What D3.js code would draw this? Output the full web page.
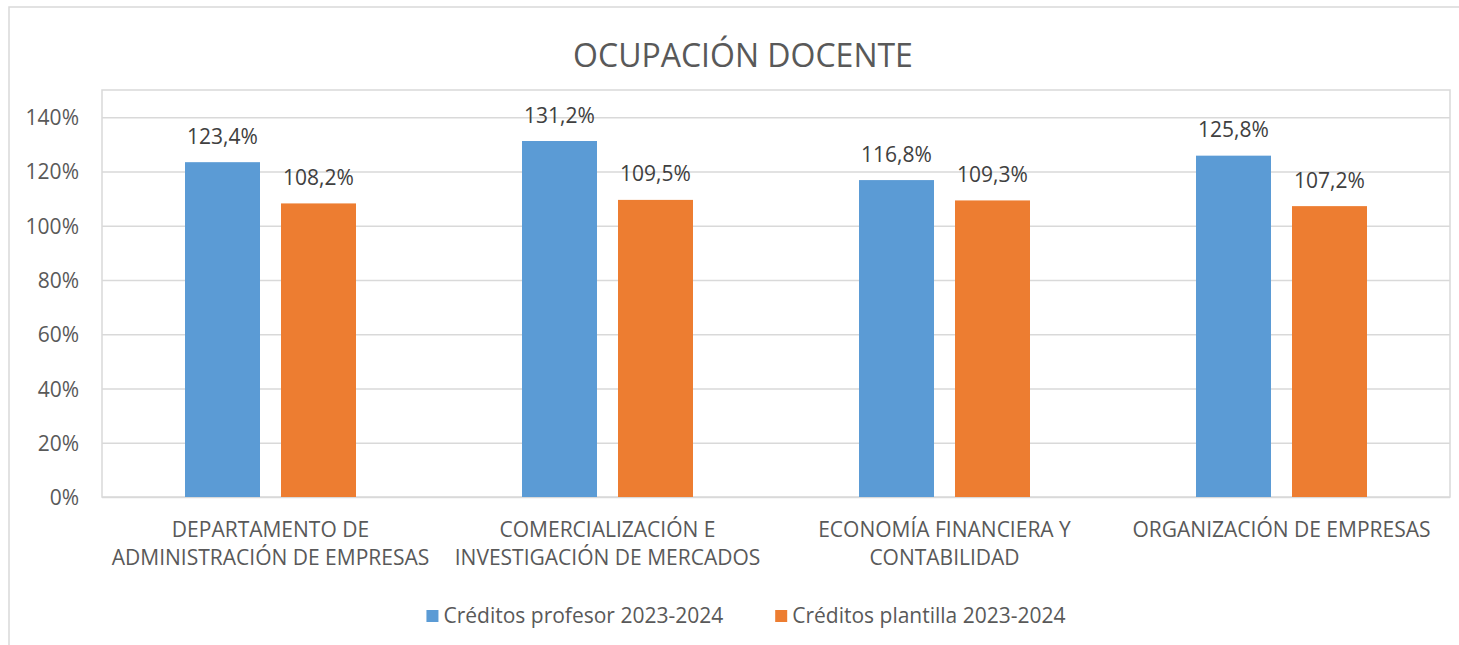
<!DOCTYPE html>
<html>
<head>
<meta charset="utf-8">
<script src="https://cdn.jsdelivr.net/npm/d3@7"></script>
<style>
  html, body { margin: 0; padding: 0; background: #fff; }
  svg { display: block; font-family: "Open Sans", sans-serif; }
</style>
</head>
<body>
<svg id="chart" width="1459" height="645"></svg>
<script>
// ---- data ----
const title = "OCUPACIÓN DOCENTE";
const categories = [
  "DEPARTAMENTO DE ADMINISTRACIÓN DE EMPRESAS",
  "COMERCIALIZACIÓN E INVESTIGACIÓN DE MERCADOS",
  "ECONOMÍA FINANCIERA Y CONTABILIDAD",
  "ORGANIZACIÓN DE EMPRESAS"
];
const seriesNames = ["Créditos profesor 2023-2024", "Créditos plantilla 2023-2024"];
const profesor = [123.4, 131.2, 116.8, 125.8];
const plantilla = [108.2, 109.5, 109.3, 107.2];
const yTicks = [0, 20, 40, 60, 80, 100, 120, 140];
const colors = ["#5B9BD5", "#ED7D31"];

// ---- layout ----
const svg = d3.select("#chart");
const plot = { left: 102, right: 1450, top: 90, bottom: 497 };
const chartCenter = 743;
const gridColor = "#D9D9D9";
const textColor = "#595959";
const fs = 21;

// outer chart border (extends beyond the visible frame on right/bottom)
svg.append("rect")
  .attr("x", 9).attr("y", 7)
  .attr("width", 1480).attr("height", 660)
  .attr("fill", "#fff")
  .attr("stroke", gridColor).attr("stroke-width", 1.5);

// title
svg.append("text")
  .attr("x", chartCenter).attr("y", 67)
  .attr("text-anchor", "middle")
  .attr("font-size", 32)
  .attr("fill", textColor)
  .text(title);

const x0 = d3.scaleBand().domain(categories).range([plot.left, plot.right]).paddingInner(0).paddingOuter(0);
const x1 = d3.scaleBand().domain(seriesNames).range([0, x0.bandwidth()])
  .paddingInner(0.21875).paddingOuter(0.8646);
const y = d3.scaleLinear().domain([0, 150]).range([plot.bottom, plot.top]);

// plot area border
svg.append("rect")
  .attr("x", plot.left).attr("y", plot.top)
  .attr("width", plot.right - plot.left).attr("height", plot.bottom - plot.top)
  .attr("fill", "none").attr("stroke", gridColor).attr("stroke-width", 1.5);

// gridlines + y axis labels
const yAxis = d3.axisLeft(y).tickValues(yTicks).tickSize(-(plot.right - plot.left))
  .tickFormat(d => d + "%").tickPadding(23);
const gy = svg.append("g").attr("transform", `translate(${plot.left},0)`).call(yAxis);
gy.select(".domain").remove();
gy.selectAll(".tick line").attr("stroke", gridColor).attr("stroke-width", 1.5);
gy.selectAll(".tick text").attr("fill", textColor).attr("font-size", fs)
  .attr("font-family", "Open Sans, sans-serif").attr("dy", "0.36em");

// bars
const data = categories.map((c, i) => ({ cat: c, vals: [profesor[i], plantilla[i]] }));
const groups = svg.append("g").selectAll("g").data(data).join("g")
  .attr("transform", d => `translate(${x0(d.cat)},0)`);

groups.selectAll("rect").data(d => d.vals.map((v, j) => ({ s: seriesNames[j], v, j })))
  .join("rect")
  .attr("x", d => x1(d.s))
  .attr("y", d => y(d.v))
  .attr("width", x1.bandwidth())
  .attr("height", d => y(0) - y(d.v))
  .attr("fill", d => colors[d.j]);

// data labels
const fmt = v => v.toFixed(1).replace(".", ",") + "%";
groups.selectAll("text.lbl").data(d => d.vals.map((v, j) => ({ s: seriesNames[j], v, j })))
  .join("text").attr("class", "lbl")
  .attr("x", d => x1(d.s) + x1.bandwidth() / 2)
  .attr("y", d => y(d.v) - 18.5)
  .attr("text-anchor", "middle")
  .attr("font-size", fs)
  .attr("fill", "#404040")
  .text(d => fmt(d.v));

// category labels with wrapping
const catG = svg.append("g");
categories.forEach(c => {
  const cx = x0(c) + x0.bandwidth() / 2;
  const t = catG.append("text").attr("text-anchor", "middle")
    .attr("font-size", fs).attr("fill", textColor);
  const words = c.split(" ");
  let lines = [], line = [];
  const probe = catG.append("text").attr("font-size", fs).style("visibility", "hidden");
  words.forEach(w => {
    const test = line.concat([w]).join(" ");
    probe.text(test);
    if (probe.node().getComputedTextLength() > x0.bandwidth() - 6 && line.length) {
      lines.push(line.join(" "));
      line = [w];
    } else {
      line.push(w);
    }
  });
  lines.push(line.join(" "));
  probe.remove();
  lines.forEach((l, i) => {
    t.append("tspan").attr("x", cx).attr("y", 536.5 + i * 28.5).text(l);
  });
});

// legend (centered, laid out from measured text widths)
const lg = svg.append("g");
const sq = 12, sqGap = 5, itemGap = 52, legendCenter = 746;
const items = seriesNames.map((name, i) => {
  const g = lg.append("g");
  g.append("rect").attr("y", 610).attr("width", sq).attr("height", sq).attr("fill", colors[i]);
  const t = g.append("text").attr("x", sq + sqGap).attr("y", 623)
    .attr("font-size", fs).attr("fill", textColor).text(name);
  return { g, w: sq + sqGap + t.node().getComputedTextLength() };
});
const total = d3.sum(items, d => d.w) + itemGap * (items.length - 1);
let cursor = legendCenter - total / 2;
items.forEach(it => {
  it.g.attr("transform", `translate(${cursor},0)`);
  cursor += it.w + itemGap;
});
</script>
</body>
</html>
